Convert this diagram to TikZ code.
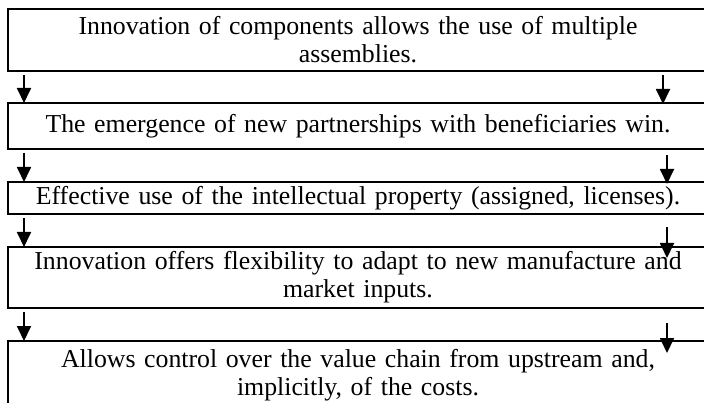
\documentclass[tikz,border=0pt]{standalone}
\usepackage{fontspec}
\setmainfont{Liberation Serif}
\usetikzlibrary{positioning, arrows.meta}

\begin{document}
\begin{tikzpicture}[x=1pt, y=-1pt,
    block/.style={rectangle, draw=black, line width=1.6pt, minimum width=700pt,
                  text width=690pt, align=center, inner sep=0pt, outer sep=0pt,
                  anchor=north west, font=\fontsize{25.8}{28}\selectfont},
    arrow/.style={-{Triangle[length=15pt, width=14pt]}, line width=1.8pt}
]
    \useasboundingbox (0,0) rectangle (704,403);

    % Boxes
    \node[block, minimum height=62pt] (components) at (8,9) {Innovation of components allows the use of multiple\\ assemblies.};
    \node[block, minimum height=46pt] (partners) at (8,103) {The emergence of new partnerships with beneficiaries win.};
    \node[block, minimum height=32pt] (property) at (8,182) {Effective use of the intellectual property (assigned, licenses).};
    \node[block, minimum height=61pt] (flexibility) at (8,247) {Innovation offers flexibility to adapt to new manufacture and\\ market inputs.};
    \node[block, minimum height=69pt] (valuechain) at (8,341) {Allows control over the value chain from upstream and,\\ implicitly, of the costs.};

    % Left arrows
    \draw[arrow] ([xshift=16pt, yshift=-4pt]components.south west) -- ([xshift=16pt]partners.north west);
    \draw[arrow] ([xshift=16pt, yshift=-4pt]partners.south west) -- ([xshift=16pt]property.north west);
    \draw[arrow] ([xshift=16pt, yshift=-4pt]property.south west) -- ([xshift=16pt]flexibility.north west);
    \draw[arrow] ([xshift=16pt, yshift=-4pt]flexibility.south west) -- ([xshift=16pt]valuechain.north west);

    % Right arrows
    \draw[arrow] ([xshift=-45pt, yshift=-4pt]components.south east) -- ([xshift=-45pt, yshift=-1pt]partners.north east);
    \draw[arrow] ([xshift=-41pt, yshift=-6pt]partners.south east) -- ([xshift=-41pt, yshift=-2pt]property.north east);
    \draw[arrow] ([xshift=-41pt, yshift=-13pt]property.south east) -- ([xshift=-41pt, yshift=-11pt]flexibility.north east);
    \draw[arrow] ([xshift=-41pt, yshift=-15pt]flexibility.south east) -- ([xshift=-41pt, yshift=-12pt]valuechain.north east);
\end{tikzpicture}
\end{document}
